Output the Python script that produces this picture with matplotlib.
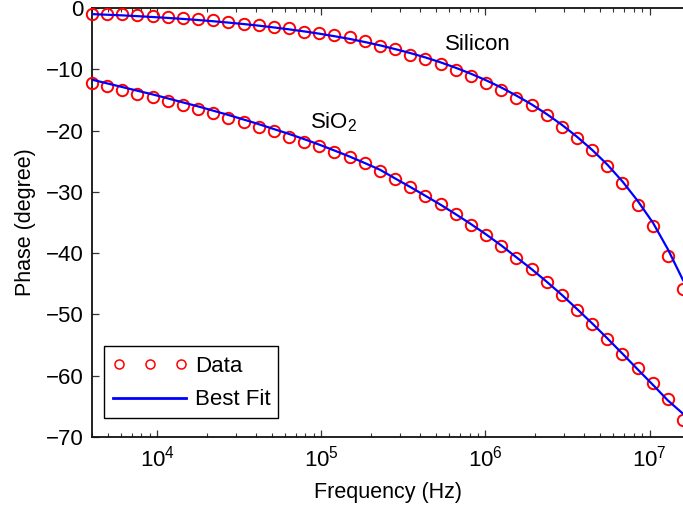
import matplotlib
matplotlib.use("Agg")
import matplotlib.pyplot as plt
from matplotlib.ticker import LogLocator, FixedLocator, NullLocator
from matplotlib.patches import Rectangle
from matplotlib.legend_handler import HandlerLine2D

plt.rcParams['font.family'] = ['Liberation Sans', 'DejaVu Sans']
plt.rcParams['mathtext.fontset'] = 'custom'
plt.rcParams['mathtext.rm'] = 'Liberation Sans'
plt.rcParams['mathtext.it'] = 'Liberation Sans:italic'

freq = [4.00e3, 4.95e3, 6.12e3, 7.57e3, 9.37e3, 1.16e4, 1.43e4, 1.77e4, 2.19e4, 2.71e4,
        3.36e4, 4.15e4, 5.13e4, 6.35e4, 7.86e4, 9.72e4, 1.20e5, 1.49e5, 1.84e5, 2.28e5,
        2.81e5, 3.48e5, 4.31e5, 5.33e5, 6.59e5, 8.15e5, 1.01e6, 1.25e6, 1.54e6, 1.91e6,
        2.36e6, 2.92e6, 3.61e6, 4.47e6, 5.53e6, 6.84e6, 8.46e6, 1.05e7, 1.29e7, 1.60e7]

si_data = [-1.03, -1.03, -0.93, -1.14, -1.31, -1.52, -1.68, -1.79, -2.01, -2.33,
           -2.56, -2.77, -3.15, -3.26, -3.87, -4.13, -4.45, -4.78, -5.33, -6.28,
           -6.77, -7.67, -8.37, -9.14, -10.11, -11.17, -12.28, -13.46, -14.73, -15.77,
           -17.54, -19.36, -21.17, -23.25, -25.77, -28.60, -32.14, -35.57, -40.46, -45.79]

si_fit = [-1.0, -1.1, -1.2, -1.33, -1.47, -1.62, -1.78, -1.96, -2.16, -2.38,
          -2.62, -2.88, -3.17, -3.48, -3.82, -4.19, -4.6, -5.05, -5.55, -6.1,
          -6.7, -7.35, -8.07, -8.87, -9.75, -10.72, -11.8, -12.98, -14.28, -15.72,
          -17.3, -19.05, -21.0, -23.15, -25.55, -28.3, -31.45, -35.05, -39.3, -44.4]

sio2_data = [-12.28, -12.72, -13.38, -14.08, -14.57, -15.17, -15.82, -16.43, -17.18, -17.9,
             -18.65, -19.41, -20.07, -21.09, -21.81, -22.51, -23.44, -24.26, -25.33, -26.59,
             -27.90, -29.20, -30.67, -31.97, -33.61, -35.4, -36.98, -38.83, -40.73, -42.62,
             -44.70, -46.82, -49.27, -51.55, -54.0, -56.44, -58.78, -61.22, -63.78, -67.21]

sio2_fit = [-11.7, -12.3, -12.9, -13.5, -14.1, -14.75, -15.4, -16.05, -16.75, -17.45,
            -18.2, -18.95, -19.75, -20.55, -21.4, -22.3, -23.25, -24.25, -25.3, -26.4,
            -27.8, -29.2, -30.65, -32.1, -33.65, -35.25, -36.95, -38.75, -40.65, -42.6,
            -44.65, -46.8, -49.1, -51.45, -53.9, -56.4, -58.95, -61.5, -64.0, -66.2]

y_ticks = [0, -10, -20, -30, -40, -50, -60, -70]

fig = plt.figure(figsize=(6.83, 5.08), dpi=100)
ax = fig.add_axes([92/683, 71/508, 591/683, 429/508])

red = '#ff0000'
blue = '#0000ff'

data_line, = ax.plot(freq, si_data, 'o', ls='none', mfc='none', mec=red, ms=8.2, mew=1.4,
                     clip_on=False, label='Data', zorder=3)
ax.plot(freq, sio2_data, 'o', ls='none', mfc='none', mec=red, ms=8.2, mew=1.4,
        clip_on=False, zorder=3)
fit_line, = ax.plot(freq, si_fit, '-', color=blue, lw=1.6, label='Best Fit', zorder=4)
ax.plot(freq, sio2_fit, '-', color=blue, lw=1.6, zorder=4)

ax.set_xscale('log')
ax.set_xlim(4.0e3, 1.6e7)
ax.set_ylim(-70, 0)
ax.yaxis.set_major_locator(FixedLocator(y_ticks))
ax.yaxis.set_minor_locator(NullLocator())
ax.xaxis.set_major_locator(LogLocator(base=10, numticks=10))
ax.xaxis.set_minor_locator(LogLocator(base=10, subs=[2, 3, 4, 5, 6, 7, 8, 9], numticks=20))

ax.spines['right'].set_visible(False)
for s in ['left', 'bottom', 'top']:
    ax.spines[s].set_linewidth(1.3)
    ax.spines[s].set_color('#111111')

ax.tick_params(which='both', direction='in', top=True, right=False, color='#333333',
               labelsize=16, pad=6)
ax.tick_params(which='major', length=5, width=0.9)
ax.tick_params(which='minor', length=3, width=0.8)

ax.set_xlabel('Frequency (Hz)', fontsize=15.5, labelpad=8)
ax.set_ylabel('Phase (degree)', fontsize=15.5, labelpad=7)

ax.text(5.68e5, -6.85, 'Silicon', fontsize=16, ha='left', va='baseline')
ax.text(8.53e4, -19.58, r'SiO$_\mathrm{2}$', fontsize=16, ha='left', va='baseline')

# legend frame (MATLAB style box)
ax.add_patch(Rectangle((12/591, 19/429), 174/591, 72/429, transform=ax.transAxes,
                       facecolor='white', edgecolor='black', lw=1.0, zorder=5,
                       clip_on=False))

leg = ax.legend(handles=[data_line, fit_line], loc='upper left',
                bbox_to_anchor=(14.3/591, (437 - 356)/429), fontsize=16,
                numpoints=3, handlelength=3.89, handletextpad=0.1,
                borderaxespad=0, borderpad=0, labelspacing=0.56, frameon=False,
                handler_map={data_line: HandlerLine2D(marker_pad=0.55)})
leg.set_zorder(6)
for h in leg.legend_handles:
    h.set_markersize(6.5)
    h.set_markeredgewidth(1.1)
    h.set_linewidth(2.0)

fig.savefig('out.png', dpi=100)
